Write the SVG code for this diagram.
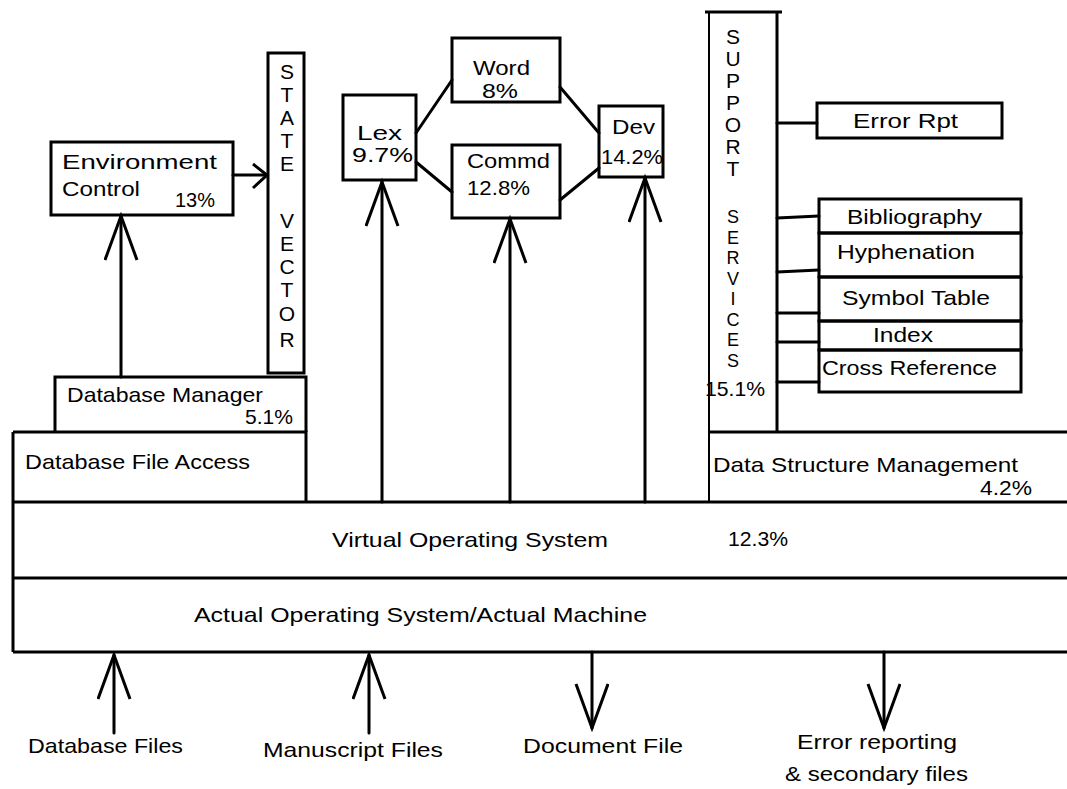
<svg xmlns="http://www.w3.org/2000/svg" width="1067" height="789" viewBox="0 0 1067 789">
<style>
.b{fill:none;stroke:#000;stroke-width:3}
.l{fill:none;stroke:#000;stroke-width:3;stroke-linecap:round}
.t{font-family:"Liberation Sans",Arial,sans-serif;font-size:21px;fill:#000}
.v{font-family:"Liberation Sans",Arial,sans-serif;font-size:21px;fill:#000;text-anchor:middle}
.vs{font-family:"Liberation Sans",Arial,sans-serif;font-size:18px;fill:#000;text-anchor:middle}
</style>
<defs>
<marker id="ah" markerUnits="userSpaceOnUse" markerWidth="50" markerHeight="40" refX="46" refY="17" orient="auto" viewBox="0 0 50 40">
<path d="M2,1 L46,17 L2,33" fill="none" stroke="#000" stroke-width="3" stroke-linejoin="miter"/>
</marker>
<marker id="as" markerUnits="userSpaceOnUse" markerWidth="20" markerHeight="30" refX="16" refY="13" orient="auto" viewBox="0 0 20 30">
<path d="M2,2 L16,13 L2,26" fill="none" stroke="#000" stroke-width="3"/>
</marker>
</defs>
<rect width="1067" height="789" fill="#fff"/>

<g id="os-layers">
<path class="b" d="M13,502 L1067,502 M13,578 L1067,578 M13,652 L1067,652 M13,432 L13,652"/>
<text class="t" x="332" y="547" textLength="276" lengthAdjust="spacingAndGlyphs">Virtual Operating System</text>
<text class="t" x="728" y="546" textLength="60" lengthAdjust="spacingAndGlyphs">12.3%</text>
<text class="t" x="194" y="622" textLength="453" lengthAdjust="spacingAndGlyphs">Actual Operating System/Actual Machine</text>
</g>

<g id="db-file-access">
<path class="b" d="M13,432 L306,432 L306,502"/>
<text class="t" x="25" y="469" textLength="225" lengthAdjust="spacingAndGlyphs">Database File Access</text>
</g>

<g id="db-manager">
<path class="b" d="M55,432 L55,377 L306,377 L306,432"/>
<text class="t" x="67" y="402" textLength="196" lengthAdjust="spacingAndGlyphs">Database Manager</text>
<text class="t" x="245" y="424" textLength="48" lengthAdjust="spacingAndGlyphs">5.1%</text>
</g>

<g id="state-vector">
<rect class="b" x="268" y="53" width="36" height="320"/>
<text class="v"><tspan x="287" y="79">S</tspan><tspan x="287" y="102">T</tspan><tspan x="287" y="125">A</tspan><tspan x="287" y="148">T</tspan><tspan x="287" y="171">E</tspan></text>
<text class="v"><tspan x="287" y="228">V</tspan><tspan x="287" y="251">E</tspan><tspan x="287" y="274">C</tspan><tspan x="287" y="297">T</tspan><tspan x="287" y="321">O</tspan><tspan x="287" y="347">R</tspan></text>
</g>

<g id="env-control">
<rect class="b" x="51" y="142" width="182" height="73"/>
<text class="t" x="62" y="169" textLength="155" lengthAdjust="spacingAndGlyphs">Environment</text>
<text class="t" x="62" y="196" textLength="78" lengthAdjust="spacingAndGlyphs">Control</text>
<text class="t" x="175" y="207" textLength="40" lengthAdjust="spacingAndGlyphs">13%</text>
</g>

<g id="lex">
<rect class="b" x="343" y="95" width="73" height="85"/>
<text class="t" x="357" y="140" textLength="45" lengthAdjust="spacingAndGlyphs">Lex</text>
<text class="t" x="352" y="162" textLength="61" lengthAdjust="spacingAndGlyphs">9.7%</text>
</g>

<g id="word">
<rect class="b" x="452" y="38" width="108" height="64"/>
<text class="t" x="473" y="75" textLength="57" lengthAdjust="spacingAndGlyphs">Word</text>
<text class="t" x="482" y="98" textLength="36" lengthAdjust="spacingAndGlyphs">8%</text>
</g>

<g id="commd">
<rect class="b" x="452" y="145" width="108" height="73"/>
<text class="t" x="467" y="168" textLength="83" lengthAdjust="spacingAndGlyphs">Commd</text>
<text class="t" x="467" y="195" textLength="63" lengthAdjust="spacingAndGlyphs">12.8%</text>
</g>

<g id="dev">
<rect class="b" x="599" y="106" width="64" height="71"/>
<text class="t" x="612" y="134" textLength="43" lengthAdjust="spacingAndGlyphs">Dev</text>
<text class="t" x="601" y="164" textLength="62" lengthAdjust="spacingAndGlyphs">14.2%</text>
</g>

<g id="support-services">
<path class="b" d="M705,12 L782,12 M777,12 L777,432"/>
<path d="M709,12 L709,502" fill="none" stroke="#000" stroke-width="2"/>
<text class="v"><tspan x="733" y="44">S</tspan><tspan x="733" y="66">U</tspan><tspan x="733" y="88">P</tspan><tspan x="733" y="110">P</tspan><tspan x="733" y="132">O</tspan><tspan x="733" y="154">R</tspan><tspan x="733" y="176">T</tspan></text>
<text class="vs"><tspan x="733" y="223">S</tspan><tspan x="733" y="243.5">E</tspan><tspan x="733" y="264">R</tspan><tspan x="733" y="284.5">V</tspan><tspan x="733" y="305">I</tspan><tspan x="733" y="325.5">C</tspan><tspan x="733" y="346">E</tspan><tspan x="733" y="366.5">S</tspan></text>
<text class="t" x="705" y="396" textLength="60" lengthAdjust="spacingAndGlyphs">15.1%</text>
</g>

<g id="error-rpt">
<rect class="b" x="817" y="103" width="185" height="35"/>
<text class="t" x="853" y="128" textLength="105" lengthAdjust="spacingAndGlyphs">Error Rpt</text>
</g>

<g id="bibliography">
<rect class="b" x="819" y="199" width="202" height="34"/>
<text class="t" x="847" y="224" textLength="135" lengthAdjust="spacingAndGlyphs">Bibliography</text>
</g>
<g id="hyphenation">
<rect class="b" x="819" y="233" width="202" height="44"/>
<text class="t" x="837" y="259" textLength="138" lengthAdjust="spacingAndGlyphs">Hyphenation</text>
</g>
<g id="symbol-table">
<rect class="b" x="819" y="277" width="202" height="44"/>
<text class="t" x="842" y="305" textLength="148" lengthAdjust="spacingAndGlyphs">Symbol Table</text>
</g>
<g id="index">
<rect class="b" x="819" y="321" width="202" height="29"/>
<text class="t" x="873" y="342" textLength="60" lengthAdjust="spacingAndGlyphs">Index</text>
</g>
<g id="cross-reference">
<rect class="b" x="819" y="350" width="202" height="42"/>
<text class="t" x="822" y="375" textLength="175" lengthAdjust="spacingAndGlyphs">Cross Reference</text>
</g>

<g id="data-structure-mgmt">
<path class="b" d="M709,432 L1067,432"/>
<text class="t" x="713" y="472" textLength="305" lengthAdjust="spacingAndGlyphs">Data Structure Management</text>
<text class="t" x="980" y="495" textLength="52" lengthAdjust="spacingAndGlyphs">4.2%</text>
</g>

<g id="io-labels">
<text class="t" x="28" y="753" textLength="155" lengthAdjust="spacingAndGlyphs">Database Files</text>
<text class="t" x="263" y="757" textLength="180" lengthAdjust="spacingAndGlyphs">Manuscript Files</text>
<text class="t" x="523" y="753" textLength="160" lengthAdjust="spacingAndGlyphs">Document File</text>
<text class="t" x="797" y="749" textLength="160" lengthAdjust="spacingAndGlyphs">Error reporting</text>
<text class="t" x="785" y="781" textLength="183" lengthAdjust="spacingAndGlyphs">&amp; secondary files</text>
</g>

<g id="connectors">
<line class="l" x1="121" y1="377" x2="121" y2="216" marker-end="url(#ah)"/>
<line class="l" x1="233" y1="175" x2="267" y2="175" marker-end="url(#as)"/>
<line class="l" x1="382" y1="502" x2="382" y2="182" marker-end="url(#ah)"/>
<line class="l" x1="510" y1="502" x2="510" y2="219" marker-end="url(#ah)"/>
<line class="l" x1="645" y1="502" x2="645" y2="178" marker-end="url(#ah)"/>
<line class="l" x1="416" y1="133" x2="452" y2="80"/>
<line class="l" x1="416" y1="162" x2="452" y2="192"/>
<line class="l" x1="560" y1="87" x2="599" y2="133"/>
<line class="l" x1="560" y1="200" x2="599" y2="168"/>
<line class="l" x1="777" y1="123" x2="817" y2="123"/>
<line class="l" x1="777" y1="218" x2="819" y2="216"/>
<line class="l" x1="777" y1="272" x2="819" y2="270"/>
<line class="l" x1="777" y1="313" x2="819" y2="313"/>
<line class="l" x1="777" y1="342" x2="819" y2="342"/>
<line class="l" x1="777" y1="382" x2="819" y2="382"/>
<line class="l" x1="114" y1="733" x2="114" y2="655" marker-end="url(#ah)"/>
<line class="l" x1="369" y1="733" x2="369" y2="655" marker-end="url(#ah)"/>
<line class="l" x1="592" y1="652" x2="592" y2="728" marker-end="url(#ah)"/>
<line class="l" x1="884" y1="652" x2="884" y2="728" marker-end="url(#ah)"/>
</g>
</svg>
